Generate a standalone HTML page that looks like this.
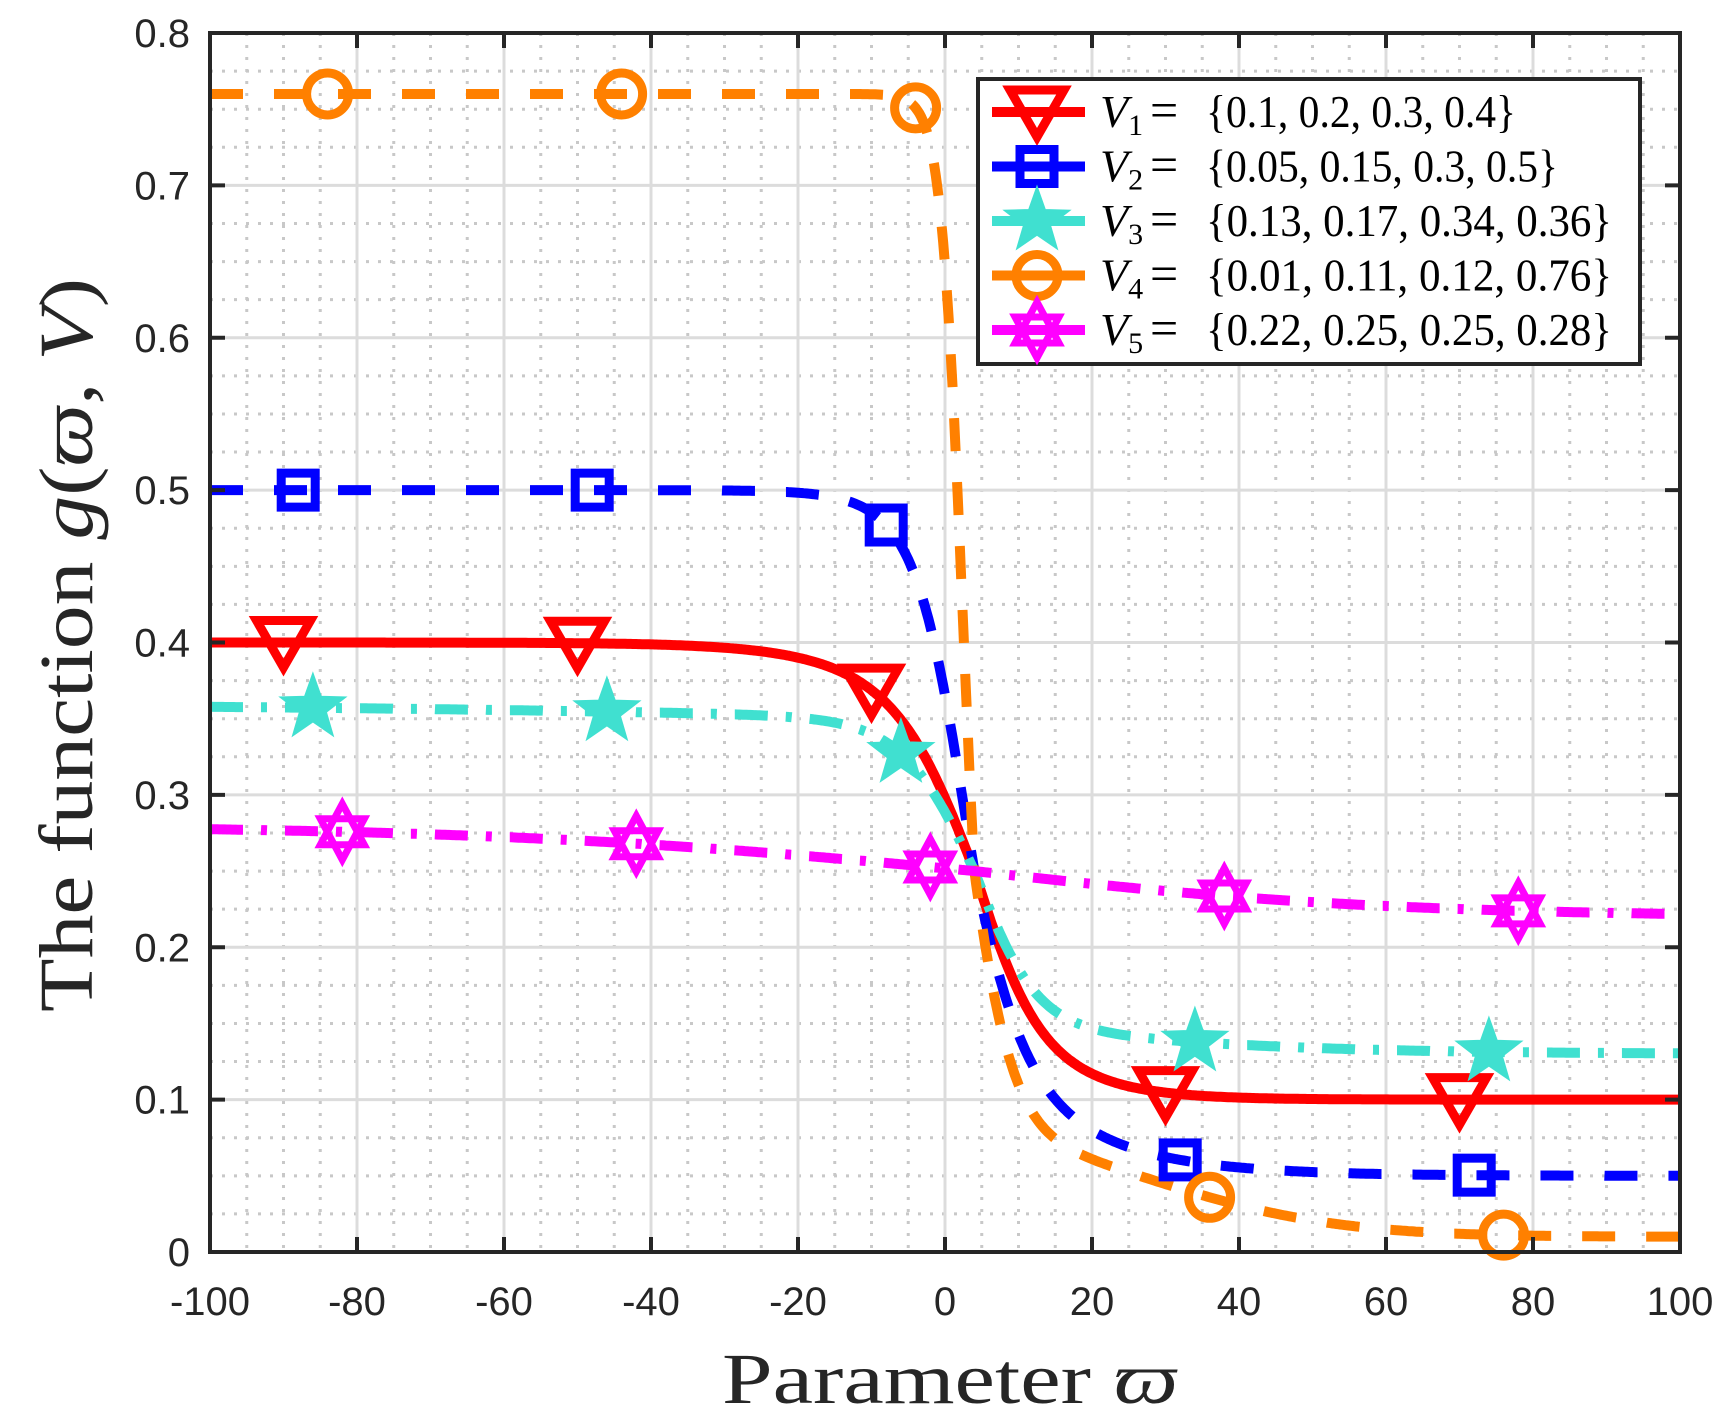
<!DOCTYPE html>
<html><head><meta charset="utf-8"><style>body{margin:0;background:#fff}svg{display:block}</style></head>
<body>
<svg id="s" width="1735" height="1423" xmlns="http://www.w3.org/2000/svg"></svg>
<script>
const L=210,R=1680,T=33,B=1252;
const X=v=>L+(v+100)/200*(R-L), Y=v=>B-v/0.8*(B-T);
let h='<rect width="1735" height="1423" fill="#fff"/>';
for(let v=-100;v<=100;v+=5){if(v%20)h+=`<line x1="${X(v)}" y1="${T}" x2="${X(v)}" y2="${B}" stroke="#c8c8c8" stroke-width="3" stroke-dasharray="3,9"/>`;}
for(let i=0;i<=32;i++){if(i%4)h+=`<line x1="${L}" y1="${Y(i*0.025)}" x2="${R}" y2="${Y(i*0.025)}" stroke="#c8c8c8" stroke-width="3" stroke-dasharray="3,9"/>`;}
for(let v=-80;v<100;v+=20)h+=`<line x1="${X(v)}" y1="${T}" x2="${X(v)}" y2="${B}" stroke="#dcdcdc" stroke-width="3"/>`;
for(let i=1;i<8;i++)h+=`<line x1="${L}" y1="${Y(i/10)}" x2="${R}" y2="${Y(i/10)}" stroke="#dcdcdc" stroke-width="3"/>`;
const Vs=[[0.1,0.2,0.3,0.4],[0.05,0.15,0.3,0.5],[0.13,0.17,0.34,0.36],[0.01,0.11,0.12,0.76],[0.22,0.25,0.25,0.28]];
const cols=['#ff0000','#0000ff','#40e0d0','#ff8000','#ff00ff'];
const dash=['none','33,31','33,18,6,18','33,31','33,18,6,18'];
const bpos=[1.2,0.8,1.2,0.41,1.2];
const g=(k,w)=>{const V=Vs[k];const d0=w-4;let a=d0<0?-1.0*d0:-bpos[k]*d0;if(k==3&&d0>0)a=-(0.41*d0+0.004*d0*d0);const m=Math.max(...V.map(v=>a*v));let n=0,d=0;for(const v of V){const e=Math.exp(a*v-m);n+=v*e;d+=e;}return n/d;};
function marker(k,x,y){const c=cols[k];
 if(k==0)return `<polygon points="${x-27},${y-22} ${x+27},${y-22} ${x},${y+25}" fill="none" stroke="${c}" stroke-width="9"/>`;
 if(k==1)return `<rect x="${x-17}" y="${y-17}" width="34" height="34" fill="none" stroke="${c}" stroke-width="9"/>`;
 if(k==2){let p=[];for(let i=0;i<10;i++){const r=i%2?13:32,a=-Math.PI/2+i*Math.PI/5;p.push((x+r*Math.cos(a)).toFixed(1)+','+(y+r*Math.sin(a)).toFixed(1));}return `<polygon points="${p.join(' ')}" fill="${c}" stroke="${c}" stroke-width="3"/>`;}
 if(k==3)return `<circle cx="${x}" cy="${y}" r="21" fill="none" stroke="${c}" stroke-width="9"/>`;
 return `<polygon points="${x},${y-28} ${x+22},${y+13} ${x-22},${y+13}" fill="none" stroke="${c}" stroke-width="7"/><polygon points="${x},${y+28} ${x+22},${y-13} ${x-22},${y-13}" fill="none" stroke="${c}" stroke-width="7"/>`;}
h+=`<defs><clipPath id="c"><rect x="${L}" y="${T}" width="${R-L}" height="${B-T}"/></clipPath></defs><g clip-path="url(#c)">`;
for(let k=0;k<5;k++){let p=[];for(let w=-100;w<=100;w+=0.25)p.push(X(w).toFixed(1)+','+Y(g(k,w)).toFixed(1));
 h+=`<polyline points="${p.join(' ')}" fill="none" stroke="${cols[k]}" stroke-width="10" stroke-dasharray="${dash[k]}"/>`;}
h+=`</g>`;
for(let k=0;k<5;k++)for(let j=0;j<5;j++){const w=-90+2*k+40*j;h+=marker(k,X(w),Y(g(k,w)));}
h+=`<rect x="${L}" y="${T}" width="${R-L}" height="${B-T}" fill="none" stroke="#262626" stroke-width="4"/>`;
for(let v=-100;v<=100;v+=20){h+=`<line x1="${X(v)}" y1="${B}" x2="${X(v)}" y2="${B-15}" stroke="#262626" stroke-width="4"/><line x1="${X(v)}" y1="${T}" x2="${X(v)}" y2="${T+15}" stroke="#262626" stroke-width="4"/><text x="${X(v)}" y="${B+63}" font-family="Liberation Sans,sans-serif" font-size="40" fill="#262626" text-anchor="middle">${v}</text>`;}
for(let i=0;i<=8;i++){const y=Y(i/10);h+=`<line x1="${L}" y1="${y}" x2="${L+15}" y2="${y}" stroke="#262626" stroke-width="4"/><line x1="${R}" y1="${y}" x2="${R-15}" y2="${y}" stroke="#262626" stroke-width="4"/><text x="${190}" y="${y+14}" font-family="Liberation Sans,sans-serif" font-size="40" fill="#262626" text-anchor="end">${i?(i/10).toFixed(1):'0'}</text>`;}
h+=`<rect x="978" y="79" width="662" height="285" fill="#fff" stroke="#262626" stroke-width="4"/>`;
const labs=['{0.1, 0.2, 0.3, 0.4}','{0.05, 0.15, 0.3, 0.5}','{0.13, 0.17, 0.34, 0.36}','{0.01, 0.11, 0.12, 0.76}','{0.22, 0.25, 0.25, 0.28}'];
const lens=[310,352,406,406,406];
for(let k=0;k<5;k++){const y=112+k*54.5;h+=`<line x1="992" y1="${y}" x2="1085" y2="${y}" stroke="${cols[k]}" stroke-width="10"/>`+marker(k,1037,y)+
`<text x="1100" y="${y+15}" font-family="Liberation Serif,serif" font-size="46" fill="#000"><tspan font-style="italic">V</tspan><tspan font-size="30" dy="8">${k+1}</tspan></text><text x="1150" y="${y+15}" font-family="Liberation Serif,serif" font-size="50" fill="#000">=</text><text x="${1206}" y="${y+15}" font-family="Liberation Serif,serif" font-size="46" fill="#000" textLength="${lens[k]}" lengthAdjust="spacingAndGlyphs">${labs[k]}</text>`;}
h+=`<text x="950" y="1403" font-family="Liberation Serif,serif" font-size="72" text-anchor="middle" fill="#262626" textLength="456" lengthAdjust="spacingAndGlyphs">Parameter <tspan font-style="italic">ϖ</tspan></text>`;
h+=`<text transform="translate(92,645) rotate(-90)" font-family="Liberation Serif,serif" font-size="76" text-anchor="middle" fill="#262626" textLength="734" lengthAdjust="spacingAndGlyphs">The function <tspan font-style="italic">g</tspan>(<tspan font-style="italic">ϖ</tspan>, <tspan font-style="italic">V</tspan>)</text>`;
document.getElementById('s').innerHTML=h;
</script>
</body></html>
